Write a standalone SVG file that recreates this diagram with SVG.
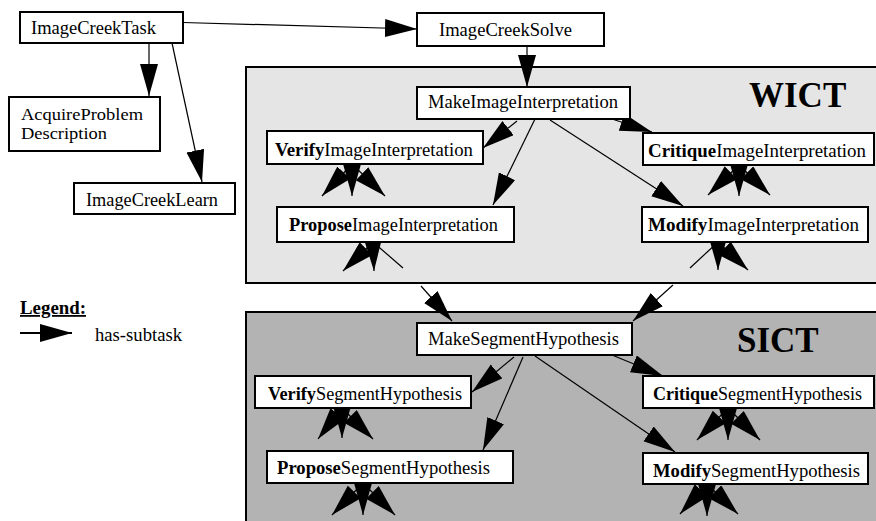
<svg xmlns="http://www.w3.org/2000/svg" width="876" height="521" viewBox="0 0 876 521">
<style>
text{font-family:"Liberation Serif","Times New Roman",serif;font-size:18px;fill:#000}
.b{font-weight:bold}
.box{fill:#fff;stroke:#000;stroke-width:2}
.grp{stroke:#000;stroke-width:2}
.e{stroke:#000;stroke-width:1.2;fill:none;marker-end:url(#ah)}
.l{stroke:#000;stroke-width:1.2;fill:none}
.title{font-weight:bold;font-size:35px}
.sm{font-size:16.5px}
</style>
<defs>
<marker id="ah" markerUnits="userSpaceOnUse" markerWidth="34" markerHeight="20" refX="32" refY="9" orient="auto">
<path d="M0,0 L32,9 L0,18 Z" fill="#000"/>
</marker>
</defs>
<rect id="WICT" class="grp" x="246" y="67" width="640" height="216" fill="#e5e5e5"/>
<rect id="SICT" class="grp" x="246" y="312" width="640" height="220" fill="#b3b3b3"/>
<text class="title" x="749" y="107">WICT</text>
<text class="title" x="737" y="352">SICT</text>
<g id="connectors">
<line class="e" x1="183" y1="22.5" x2="417" y2="29"/>
<line class="e" x1="149" y1="43" x2="149" y2="96"/>
<line class="e" x1="172" y1="43" x2="202" y2="182"/>
<line class="e" x1="527" y1="46" x2="527" y2="87"/>
<line class="e" x1="517" y1="121" x2="483" y2="148"/>
<line class="e" x1="535" y1="119" x2="493" y2="205"/>
<line class="e" x1="612" y1="119" x2="652" y2="132"/>
<line class="e" x1="550" y1="120" x2="683" y2="206"/>
<line class="e" x1="352" y1="164" x2="322" y2="196"/>
<line class="e" x1="352" y1="164" x2="352" y2="196"/>
<line class="e" x1="352" y1="164" x2="385" y2="196"/>
<line class="e" x1="739" y1="165" x2="708" y2="195"/>
<line class="e" x1="739" y1="165" x2="739" y2="196"/>
<line class="e" x1="739" y1="165" x2="770" y2="195"/>
<line class="e" x1="373" y1="242" x2="343" y2="271"/>
<line class="e" x1="373" y1="242" x2="374" y2="271"/>
<line class="l" x1="373" y1="242" x2="403" y2="268"/>
<line class="l" x1="718" y1="242" x2="690" y2="268"/>
<line class="e" x1="718" y1="242" x2="718" y2="270"/>
<line class="e" x1="718" y1="242" x2="748" y2="270"/>
<line class="e" x1="421" y1="286" x2="452" y2="321"/>
<line class="e" x1="673" y1="285" x2="633" y2="321"/>
<line class="e" x1="514" y1="357" x2="472" y2="392"/>
<line class="e" x1="523" y1="357" x2="483" y2="450"/>
<line class="e" x1="612" y1="355" x2="663" y2="376"/>
<line class="e" x1="535" y1="356" x2="675" y2="452"/>
<line class="e" x1="342" y1="408" x2="318" y2="439"/>
<line class="e" x1="342" y1="408" x2="342" y2="438"/>
<line class="e" x1="342" y1="408" x2="373" y2="439"/>
<line class="e" x1="363" y1="483" x2="332" y2="515"/>
<line class="e" x1="363" y1="483" x2="363" y2="515"/>
<line class="e" x1="363" y1="483" x2="395" y2="515"/>
<line class="e" x1="728" y1="408" x2="697" y2="440"/>
<line class="e" x1="728" y1="408" x2="728" y2="440"/>
<line class="e" x1="728" y1="408" x2="760" y2="440"/>
<line class="e" x1="707" y1="484" x2="680" y2="514"/>
<line class="e" x1="707" y1="484" x2="707" y2="516"/>
<line class="e" x1="707" y1="484" x2="738" y2="514"/>
</g>
<g id="ImageCreekTask"><rect class="box" x="20" y="12" width="163" height="31"/><text x="31" y="34" textLength="125" lengthAdjust="spacingAndGlyphs">ImageCreekTask</text></g>
<g id="AcquireProblemDescription"><rect class="box" x="9" y="97" width="151" height="54"/><text class="sm" x="21" y="120" textLength="122" lengthAdjust="spacingAndGlyphs">AcquireProblem</text><text class="sm" x="21" y="139" textLength="86" lengthAdjust="spacingAndGlyphs">Description</text></g>
<g id="ImageCreekLearn"><rect class="box" x="74" y="183" width="161" height="31"/><text x="86" y="206" textLength="132" lengthAdjust="spacingAndGlyphs">ImageCreekLearn</text></g>
<g id="ImageCreekSolve"><rect class="box" x="417" y="13" width="187" height="33"/><text x="439" y="36" textLength="133" lengthAdjust="spacingAndGlyphs">ImageCreekSolve</text></g>
<g id="MakeImageInterpretation"><rect class="box" x="417" y="87" width="213" height="32"/><text x="428" y="108" textLength="190" lengthAdjust="spacingAndGlyphs">MakeImageInterpretation</text></g>
<g id="VerifyImageInterpretation"><rect class="box" x="267" y="131" width="216" height="33"/><text x="275" y="156" textLength="198" lengthAdjust="spacingAndGlyphs"><tspan class="b">Verify</tspan>ImageInterpretation</text></g>
<g id="ProposeImageInterpretation"><rect class="box" x="277" y="207" width="237" height="35"/><text x="289" y="231" textLength="209" lengthAdjust="spacingAndGlyphs"><tspan class="b">Propose</tspan>ImageInterpretation</text></g>
<g id="CritiqueImageInterpretation"><rect class="box" x="643" y="133" width="231" height="32"/><text x="648" y="157" textLength="218" lengthAdjust="spacingAndGlyphs"><tspan class="b">Critique</tspan>ImageInterpretation</text></g>
<g id="ModifyImageInterpretation"><rect class="box" x="642" y="207" width="226" height="35"/><text x="648" y="231" textLength="211" lengthAdjust="spacingAndGlyphs"><tspan class="b">Modify</tspan>ImageInterpretation</text></g>
<g id="MakeSegmentHypothesis"><rect class="box" x="417" y="323" width="215" height="32"/><text x="428" y="345" textLength="191" lengthAdjust="spacingAndGlyphs">MakeSegmentHypothesis</text></g>
<g id="VerifySegmentHypothesis"><rect class="box" x="255" y="376" width="216" height="32"/><text x="268" y="400" textLength="194" lengthAdjust="spacingAndGlyphs"><tspan class="b">Verify</tspan>SegmentHypothesis</text></g>
<g id="ProposeSegmentHypothesis"><rect class="box" x="267" y="451" width="246" height="32"/><text x="277" y="474" textLength="213" lengthAdjust="spacingAndGlyphs"><tspan class="b">Propose</tspan>SegmentHypothesis</text></g>
<g id="CritiqueSegmentHypothesis"><rect class="box" x="643" y="376" width="231" height="32"/><text x="653" y="400" textLength="209" lengthAdjust="spacingAndGlyphs"><tspan class="b">Critique</tspan>SegmentHypothesis</text></g>
<g id="ModifySegmentHypothesis"><rect class="box" x="643" y="453" width="225" height="31"/><text x="653" y="477" textLength="207" lengthAdjust="spacingAndGlyphs"><tspan class="b">Modify</tspan>SegmentHypothesis</text></g>
<g id="legend">
<text class="b" x="20" y="314" text-decoration="underline" textLength="66" lengthAdjust="spacingAndGlyphs">Legend:</text>
<line x1="20" y1="333" x2="72" y2="333" stroke="#000" stroke-width="2" marker-end="url(#ah)"/>
<text x="95" y="341" textLength="87" lengthAdjust="spacingAndGlyphs">has-subtask</text>
</g>
</svg>
